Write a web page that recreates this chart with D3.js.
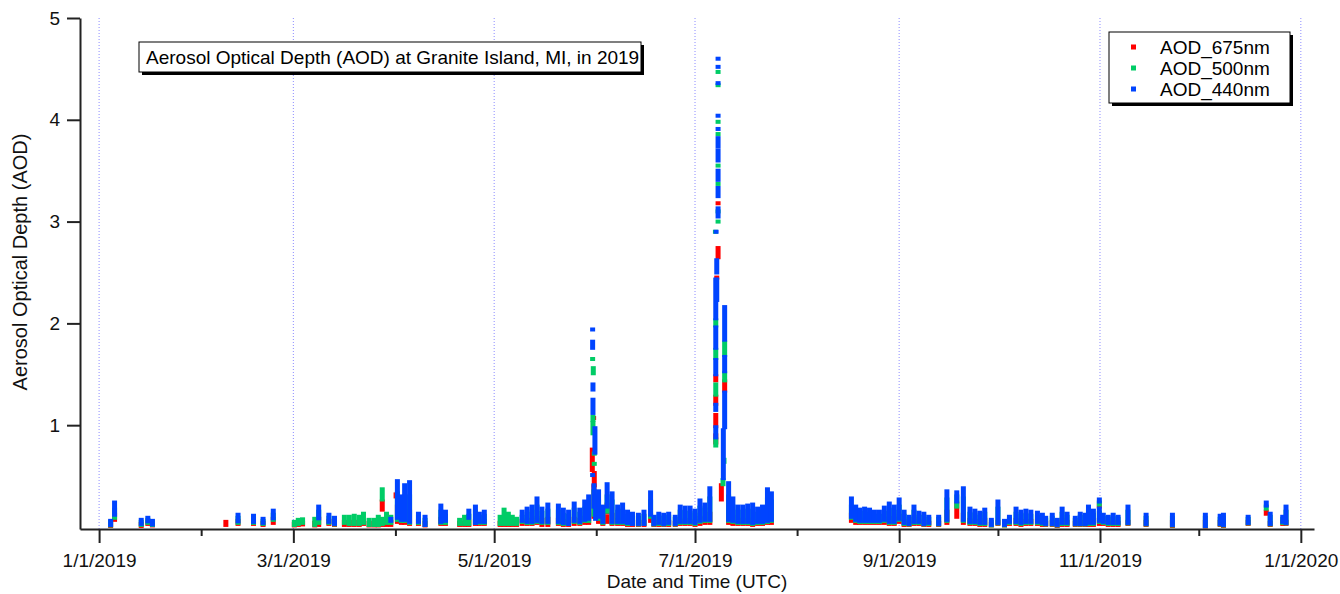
<!DOCTYPE html>
<html>
<head>
<meta charset="utf-8">
<script src="https://cdn.jsdelivr.net/npm/d3@7"></script>
<style>
  body { margin: 0; background: #fff; }
  svg { display: block; font-family: Arial, "Liberation Sans", sans-serif; }
</style>
</head>
<body>
<div id="chart"></div>
<script>
// Each entry: [day of 2019 (0 = Jan 1, UTC), lowest AOD, highest AOD] observed in that slot
const aod675 = [
  [3.5,.01,.03],[4.7,.07,.12],[12.8,.01,.03],[14.8,.03,.05],[16.2,.015,.03],[38.5,.02,.05],
  [42.2,.03,.06],[46.9,.03,.05],[49.8,.02,.04],[52.9,.04,.08],[59.3,.015,.03],[60.5,.02,.04],[61.8,.025,.04],
  [65.5,.015,.04],[66.7,.02,.08],[69.8,.03,.06],[71.5,.02,.04],[74.5,.02,.05],[76,.02,.05],[77.5,.02,.05],
  [79,.02,.05],[80.3,.03,.06],[82,.015,.04],[83.5,.015,.04],[84.8,.015,.05],[86,.17,.25],[86,.02,.04],
  [87.3,.02,.05],[88.6,.02,.05],[90.2,.3,.32],[90.6,.05,.2],[91.8,.04,.1],[92.8,.04,.15],[94.3,.03,.15],
  [97,.03,.06],[99,.015,.04],[103.8,.03,.08],[105.2,.03,.07],[109.5,.02,.04],[111,.02,.04],[112.3,.02,.05],
  [114.3,.03,.06],[115.5,.03,.06],[117,.03,.06],[121.8,.02,.04],[123,.02,.05],[124.3,.02,.05],[125.5,.02,.04],
  [126.8,.02,.04],[128.5,.03,.06],[130,.03,.07],[131.5,.03,.07],[133,.04,.09],[134.5,.02,.07],[136.3,.02,.08],
  [139.5,.03,.07],[141,.02,.06],[142.6,.02,.05],[144.3,.03,.08],[146,.03,.07],[147.5,.04,.09],[148.7,.04,.12],
  [150.2,1.07,1.07],[149.8,.56,.76],[150.4,.41,.53],[150.3,.1,.4],[151.7,.05,.15],[153,.03,.08],[154.3,.14,.22],
  [154.3,.05,.1],[155.8,.03,.12],[157.5,.03,.07],[159,.03,.07],[160.5,.02,.06],[162,.02,.05],[163.8,.02,.05],
  [165.5,.02,.05],[167.5,.06,.12],[168.5,.02,.04],[170,.02,.05],[171.5,.02,.05],[173,.02,.05],[175,.02,.04],
  [176.5,.03,.06],[178,.03,.07],[179.5,.03,.05],[181,.02,.06],[182.5,.03,.09],[184,.04,.08],[185.5,.04,.13],
  [188,3.18,3.18],[188,2.65,2.74],[187.6,2.45,2.45],[187.3,1.44,1.48],[187.3,1.21,1.28],[187.3,.99,1.1],
  [187.3,.83,.9],[190,1.34,1.43],[189,.27,.41],[191.2,.04,.15],[192.5,.03,.1],[194,.03,.05],[195.5,.03,.07],
  [197,.03,.07],[198.5,.02,.07],[200,.03,.06],[201.5,.03,.07],[203,.04,.12],[204.2,.04,.11],
  [228.5,.06,.12],[229.8,.04,.08],[231,.04,.07],[232.5,.04,.07],[234,.04,.07],[235.5,.04,.06],[237,.04,.06],
  [238.5,.04,.08],[240,.03,.09],[241.5,.03,.08],[243,.05,.11],[244.5,.02,.06],[246,.02,.04],[247.5,.03,.08],
  [249,.03,.06],[250.5,.02,.05],[252,.02,.04],[255,.02,.04],[257.5,.04,.15],[260.5,.1,.23],[262.5,.04,.12],
  [264.5,.03,.07],[266,.03,.06],[267.5,.02,.06],[269,.02,.07],[271,.015,.03],[273,.03,.05],[275,.015,.03],
  [276.5,.03,.05],[278.5,.03,.07],[280,.02,.06],[281.5,.03,.06],[283,.03,.06],[285,.03,.06],[286.5,.02,.05],
  [287.5,.02,.04],[289.5,.02,.05],[291,.01,.03],[292.5,.02,.07],[294,.02,.05],[296.5,.02,.04],[298,.02,.05],
  [299.5,.02,.05],[300.5,.02,.08],[302,.02,.06],[303.8,.03,.07],[303.8,.2,.21],[305,.03,.05],[306.5,.02,.04],
  [308,.02,.05],[309.5,.02,.04],[312.5,.03,.05],[318,.02,.05],[326,.01,.05],[336,.005,.05],[340.5,.02,.05],
  [341.5,.01,.05],[349,.03,.05],[354.5,.13,.15],[355.7,.02,.04],[359.5,.03,.05],[360.5,.03,.05]
];

const aod500 = [
  [3.5,.015,.05],[4.7,.09,.17],[12.8,.02,.05],[14.8,.04,.07],[16.2,.02,.05],
  [42.2,.04,.09],[46.9,.04,.08],[49.8,.03,.06],[52.9,.07,.12],[59.3,.02,.05],[60.5,.03,.07],[61.8,.04,.075],
  [65.5,.02,.08],[66.7,.04,.15],[69.8,.04,.09],[71.5,.025,.07],[74.5,.04,.1],[76,.03,.1],[77.5,.03,.11],
  [79,.03,.1],[80.3,.04,.13],[82,.02,.07],[83.5,.02,.07],[84.8,.02,.1],[86,.27,.37],[86,.03,.08],
  [87.3,.04,.13],[88.6,.04,.1],[90.6,.07,.33],[91.8,.06,.2],[92.8,.06,.3],[94.3,.04,.3],[97,.04,.1],
  [99,.02,.07],[103.8,.04,.15],[105.2,.04,.11],[109.5,.03,.07],[111,.03,.1],[112.3,.03,.11],[114.3,.04,.15],
  [115.5,.04,.1],[117,.04,.11],[121.8,.03,.1],[123,.03,.17],[124.3,.03,.13],[125.5,.03,.1],[126.8,.03,.08],
  [128.5,.05,.1],[130,.04,.13],[131.5,.04,.15],[133,.05,.2],[134.5,.04,.14],[136.3,.04,.16],[139.5,.04,.15],
  [141,.03,.12],[142.6,.03,.11],[144.3,.05,.17],[146,.04,.13],[147.5,.06,.18],[148.7,.06,.22],
  [149.9,1.65,1.65],[150.1,1.51,1.56],[150,1.05,1.08],[150,.92,1.02],[150.4,.72,.72],[150.4,.62,.62],
  [150.3,.12,.35],[151.7,.08,.25],[153,.04,.15],[154.3,.15,.3],[155.8,.04,.25],[157.5,.04,.15],[159,.04,.16],
  [160.5,.03,.11],[162,.03,.1],[163.8,.025,.09],[165.5,.03,.11],[167.5,.1,.25],[168.5,.025,.08],[170,.03,.1],
  [171.5,.025,.09],[173,.03,.1],[175,.025,.08],[176.5,.04,.15],[178,.04,.14],[179.5,.04,.14],[181,.03,.12],
  [182.5,.05,.19],[184,.06,.17],[185.5,.06,.28],
  [188,4.47,4.47],[188,4.34,4.34],[188,3.98,3.98],[188,3.86,3.86],[188,3.55,3.55],[188,3.37,3.37],
  [188,3.10,3.10],[188,3.0,3.0],[187.2,2.9,2.9],[187.3,1.98,2.03],[187.3,1.66,1.74],[187.3,1.3,1.4],
  [187.3,.8,.86],[190,1.69,1.81],[190,1.44,1.51],[189.5,.42,.46],[189.8,.64,.66],[191.2,.06,.3],
  [192.5,.05,.2],[194,.04,.15],[195.5,.04,.15],[197,.04,.16],[198.5,.03,.16],[200,.04,.13],[201.5,.04,.15],
  [203,.05,.27],[204.2,.06,.25],
  [228.5,.09,.2],[229.8,.06,.15],[231,.05,.13],[232.5,.05,.14],[234,.05,.13],[235.5,.05,.11],[237,.05,.11],
  [238.5,.06,.14],[240,.04,.17],[241.5,.04,.15],[243,.07,.2],[244.5,.03,.11],[246,.025,.08],[247.5,.04,.15],
  [249,.04,.1],[250.5,.025,.1],[252,.03,.08],[255,.025,.08],[257.5,.06,.27],[260.5,.2,.3],[262.5,.06,.28],
  [264.5,.04,.13],[266,.04,.12],[267.5,.03,.1],[269,.03,.13],[271,.015,.05],[273,.035,.18],[275,.015,.05],
  [276.5,.04,.08],[278.5,.04,.13],[280,.03,.11],[281.5,.04,.12],[283,.04,.11],[285,.04,.1],[286.5,.03,.09],
  [287.5,.025,.07],[289.5,.025,.09],[291,.015,.05],[292.5,.03,.13],[294,.03,.1],[296.5,.025,.07],[298,.025,.1],
  [299.5,.025,.09],[300.5,.03,.15],[302,.03,.12],[303.8,.05,.14],[303.8,.22,.24],[305,.04,.09],[306.5,.03,.08],
  [308,.03,.09],[309.5,.03,.08],[312.5,.035,.15],[318,.025,.09],[326,.015,.09],[336,.008,.09],[340.5,.025,.08],
  [341.5,.015,.09],[349,.035,.08],[354.5,.18,.2],[355.7,.025,.1],[359.5,.04,.08],[360.5,.035,.15]
];

const aod440 = [
  [3.5,.02,.06],[4.7,.12,.24],[12.8,.03,.07],[14.8,.055,.09],[16.2,.025,.06],
  [42.2,.055,.12],[46.9,.05,.11],[49.8,.04,.08],[52.9,.085,.16],[66.7,.085,.2],[69.8,.05,.12],[71.5,.03,.09],
  [88.6,.06,.08],[90.6,.09,.45],[91.8,.07,.3],[92.8,.07,.41],[94.3,.05,.44],[97,.05,.13],[99,.02,.1],
  [103.8,.05,.21],[105.2,.06,.15],[112.3,.09,.16],[114.3,.04,.2],[115.5,.05,.13],[117,.05,.15],
  [128.5,.06,.15],[130,.05,.18],[131.5,.05,.2],[133,.06,.28],[134.5,.05,.18],[136.3,.05,.22],
  [139.5,.05,.21],[141,.04,.17],[142.6,.03,.15],[144.3,.06,.23],[146,.05,.17],[147.5,.07,.25],[148.7,.08,.3],
  [149.9,1.94,1.94],[149.9,1.76,1.82],[150,1.35,1.4],[150,1.12,1.25],[150.6,.73,.97],[149.9,.51,.51],
  [150.3,.2,.41],[150.8,.08,.3],[151.7,.1,.35],[153,.05,.2],[154.3,.2,.42],[155.8,.05,.33],[157.5,.05,.2],
  [159,.05,.22],[160.5,.04,.15],[162,.03,.13],[163.8,.03,.12],[165.5,.03,.15],[167.5,.12,.34],[168.5,.03,.1],
  [170,.04,.13],[171.5,.03,.12],[173,.04,.13],[175,.03,.1],[176.5,.05,.2],[178,.05,.19],[179.5,.05,.19],
  [181,.04,.16],[182.5,.06,.26],[184,.07,.22],[185.5,.07,.38],
  [187.3,2.05,2.43],[187.3,1.76,1.96],[187.3,1.5,1.64],[187.3,1.15,1.2],[187.3,.88,.98],
  [188,4.6,4.6],[188,4.52,4.52],[188,4.36,4.36],[188,4.04,4.04],[188,3.91,3.91],[188,3.74,3.82],
  [188,3.6,3.7],[188,3.41,3.5],[188,3.25,3.33],[188,3.05,3.13],[187.4,2.9,2.9],[187.6,2.5,2.62],
  [187.6,2.23,2.43],[190,1.84,2.16],[190,1.53,1.67],[190,.98,1.32],[189.6,.48,.95],[191.2,.07,.43],
  [192.5,.06,.28],[194,.05,.2],[195.5,.05,.2],[197,.05,.21],[198.5,.04,.22],[200,.05,.18],[201.5,.05,.2],
  [203,.06,.37],[204.2,.07,.33],
  [228.5,.1,.28],[229.8,.07,.2],[231,.06,.17],[232.5,.06,.18],[234,.06,.17],[235.5,.06,.15],[237,.06,.15],
  [238.5,.07,.19],[240,.05,.23],[241.5,.05,.2],[243,.08,.27],[244.5,.04,.15],[246,.03,.1],[247.5,.05,.2],
  [249,.05,.14],[250.5,.03,.13],[252,.04,.1],[255,.03,.1],[257.5,.07,.35],[260.5,.25,.34],[262.5,.07,.38],
  [264.5,.05,.18],[266,.05,.16],[267.5,.04,.14],[269,.04,.17],[271,.02,.07],[273,.04,.25],[275,.02,.06],
  [276.5,.05,.1],[278.5,.05,.18],[280,.04,.15],[281.5,.05,.16],[283,.05,.15],[285,.05,.14],[286.5,.04,.12],
  [287.5,.03,.09],[289.5,.03,.12],[291,.02,.07],[292.5,.04,.18],[294,.04,.13],[296.5,.03,.09],[298,.03,.13],
  [299.5,.03,.12],[300.5,.04,.2],[302,.04,.16],[303.8,.06,.18],[303.8,.25,.27],[305,.05,.12],[306.5,.04,.1],
  [308,.04,.12],[309.5,.04,.1],[312.5,.04,.2],[318,.03,.12],[326,.02,.12],[336,.01,.12],[340.5,.03,.11],
  [341.5,.02,.12],[349,.04,.1],[354.5,.21,.24],[355.7,.03,.13],[359.5,.05,.1],[360.5,.04,.2]
];

const seriesNames = ['AOD_675nm', 'AOD_500nm', 'AOD_440nm'];
const seriesColors = ['#ff0000', '#00cc66', '#0044ff'];
const yTickValues = [1, 2, 3, 4, 5];
const chartTitle = 'Aerosol Optical Depth (AOD) at Granite Island, MI, in 2019';

const width = 1340, height = 594;
const t0 = Date.UTC(2019, 0, 1);
const dayToDate = d => new Date(t0 + d * 864e5);

const svg = d3.select('#chart').append('svg')
    .attr('width', width)
    .attr('height', height);

const x = d3.scaleUtc()
    .domain([dayToDate(-5.8), dayToDate(369)])
    .range([80, 1314]);
const y = d3.scaleLinear()
    .domain([-0.02, 5])
    .range([529, 18]);

// labelled ticks on odd months, short unlabelled ticks on even months
const allMonths = d3.utcMonths(new Date(Date.UTC(2019, 0, 1)), new Date(Date.UTC(2020, 0, 2)));
const majorTicks = allMonths.filter(d => d.getUTCMonth() % 2 === 0);
const minorTicks = allMonths.filter(d => d.getUTCMonth() % 2 === 1);

// dotted vertical grid at labelled ticks
svg.append('g')
    .selectAll('line')
    .data(majorTicks)
    .join('line')
    .attr('x1', d => x(d)).attr('x2', d => x(d))
    .attr('y1', y(5)).attr('y2', y(-0.02))
    .attr('stroke', '#8c8cff')
    .attr('stroke-width', 1)
    .attr('stroke-dasharray', '1,2');

// markers: drawn 675 first, 440 last (on top)
const series = [aod675, aod500, aod440];
series.forEach((values, i) => {
    svg.append('g')
        .selectAll('rect')
        .data(values)
        .join('rect')
        .attr('x', d => x(dayToDate(d[0])) - 2.5)
        .attr('y', d => y(d[2]) - 2)
        .attr('width', 5)
        .attr('height', d => y(d[1]) - y(d[2]) + 4)
        .attr('fill', seriesColors[i]);
});

// x axis
svg.append('g')
    .attr('transform', `translate(0,${y(-0.02)})`)
    .call(d3.axisBottom(x)
        .tickValues(majorTicks)
        .tickSize(14)
        .tickSizeOuter(0)
        .tickPadding(11)
        .tickFormat(d3.utcFormat('%-m/%-d/%Y')));
svg.append('g')
    .attr('transform', `translate(0,${y(-0.02)})`)
    .call(d3.axisBottom(x).tickValues(minorTicks).tickSize(7).tickSizeOuter(0).tickFormat(''))
    .call(g => g.select('.domain').remove());

// y axis
svg.append('g')
    .attr('transform', 'translate(80,0)')
    .call(d3.axisLeft(y)
        .tickValues(yTickValues)
        .tickSize(13)
        .tickSizeOuter(0)
        .tickPadding(7)
        .tickFormat(d3.format('d')));

svg.selectAll('.domain, .tick line')
    .attr('stroke', '#222')
    .attr('stroke-width', 2);
svg.selectAll('.tick text')
    .attr('fill', '#111')
    .style('font-size', '19px')
    .style('font-family', 'Arial, "Liberation Sans", sans-serif');

// axis titles
svg.append('text')
    .attr('transform', 'translate(27,262) rotate(-90)')
    .attr('text-anchor', 'middle')
    .style('font-size', '20px')
    .attr('fill', '#111')
    .text('Aerosol Optical Depth (AOD)');
svg.append('text')
    .attr('x', (x.range()[0] + x.range()[1]) / 2)
    .attr('y', 588)
    .attr('text-anchor', 'middle')
    .style('font-size', '19px')
    .attr('fill', '#111')
    .text('Date and Time (UTC)');

// title box with drop shadow
const titleG = svg.append('g');
titleG.append('rect')
    .attr('x', 142).attr('y', 45).attr('width', 502).attr('height', 30)
    .attr('fill', '#000');
titleG.append('rect')
    .attr('x', 139).attr('y', 42).attr('width', 502).attr('height', 30)
    .attr('fill', '#fff').attr('stroke', '#000').attr('stroke-width', 1);
titleG.append('text')
    .attr('x', 146).attr('y', 64)
    .style('font-size', '19px')
    .attr('fill', '#000')
    .text(chartTitle);

// legend
const legendG = svg.append('g');
legendG.append('rect')
    .attr('x', 1112).attr('y', 35).attr('width', 181).attr('height', 71)
    .attr('fill', '#000');
legendG.append('rect')
    .attr('x', 1109).attr('y', 32).attr('width', 181).attr('height', 71)
    .attr('fill', '#fff').attr('stroke', '#000').attr('stroke-width', 1);
seriesNames.forEach((name, i) => {
    const cy = 47 + i * 21;
    legendG.append('rect')
        .attr('x', 1131).attr('y', cy - 2.5).attr('width', 5).attr('height', 5)
        .attr('fill', seriesColors[i]);
    legendG.append('text')
        .attr('x', 1160).attr('y', cy + 7)
        .style('font-size', '19px')
        .attr('fill', '#000')
        .text(name);
});
</script>
</body>
</html>
